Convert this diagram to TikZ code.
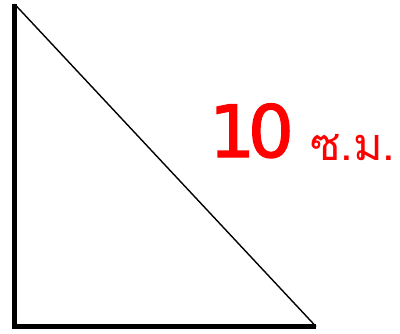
\documentclass[tikz,border=0pt]{standalone}
\usepackage{fontspec}
\setmainfont{DejaVu Sans}
\newfontfamily\thaifont[Script=Thai]{Loma}
\newfontfamily\numfont[FakeBold=2]{DejaVu Sans}
\usetikzlibrary{positioning}

\begin{document}
\begin{tikzpicture}[x=1pt,y=-1pt,
  thick side/.style={line width=5.5pt,black},
  thin side/.style={line width=1.4pt,black},
  numlbl/.style={text=red,font=\numfont\fontsize{72}{76}\selectfont,inner sep=0pt,anchor=base west},
  unitlbl/.style={text=red,font=\thaifont\fontsize{45}{48}\selectfont,inner sep=0pt,anchor=base west}]
\useasboundingbox (0,0) rectangle (400,333);
\coordinate (top) at (14.5,4);
\coordinate (corner) at (14.5,326.5);
\coordinate (end) at (316,326.5);
\draw[thick side] (top) -- (corner) -- (end);
\draw[thin side] (top) -- (end);
\node[numlbl] (len) at (209,157) {1\kern-7pt0};
\node[unitlbl] (unit) at (310,160) {ซ.ม.};
\end{tikzpicture}
\end{document}
